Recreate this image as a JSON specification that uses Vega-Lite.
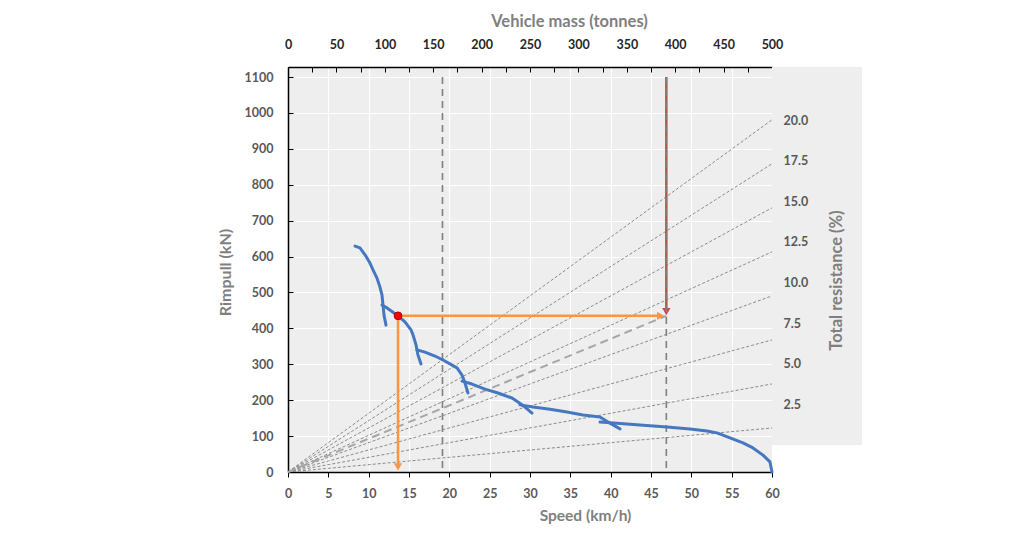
{
  "$schema": "https://vega.github.io/schema/vega-lite/v6.json",
  "width": 484,
  "height": 405,
  "autosize": "none",
  "padding": {"left": 288, "top": 67, "right": 241, "bottom": 64},
  "background": "white",
  "config": {"view": {"fill": "#EEEEEE", "stroke": null}, "font": "Lato"},
  "datasets": {
    "gears": [
      {"gear": 1, "speed": 8.31, "rimpull": 629}, {"gear": 1, "speed": 8.92, "rimpull": 624}, {"gear": 1, "speed": 9.55, "rimpull": 605}, {"gear": 1, "speed": 10.16, "rimpull": 582}, {"gear": 1, "speed": 10.54, "rimpull": 563}, {"gear": 1, "speed": 11.03, "rimpull": 540}, {"gear": 1, "speed": 11.4, "rimpull": 515}, {"gear": 1, "speed": 11.65, "rimpull": 493}, {"gear": 1, "speed": 11.78, "rimpull": 465}, {"gear": 1, "speed": 11.9, "rimpull": 437}, {"gear": 1, "speed": 12.15, "rimpull": 409},
      {"gear": 2, "speed": 11.65, "rimpull": 465}, {"gear": 2, "speed": 12.27, "rimpull": 457}, {"gear": 2, "speed": 13.02, "rimpull": 445}, {"gear": 2, "speed": 13.64, "rimpull": 435}, {"gear": 2, "speed": 14.5, "rimpull": 418}, {"gear": 2, "speed": 15.25, "rimpull": 396}, {"gear": 2, "speed": 15.5, "rimpull": 382}, {"gear": 2, "speed": 15.87, "rimpull": 354}, {"gear": 2, "speed": 16.11, "rimpull": 326}, {"gear": 2, "speed": 16.49, "rimpull": 301},
      {"gear": 3, "speed": 15.99, "rimpull": 340}, {"gear": 3, "speed": 16.98, "rimpull": 334}, {"gear": 3, "speed": 18.22, "rimpull": 323}, {"gear": 3, "speed": 19.21, "rimpull": 312}, {"gear": 3, "speed": 20.08, "rimpull": 301}, {"gear": 3, "speed": 20.95, "rimpull": 290}, {"gear": 3, "speed": 21.57, "rimpull": 270}, {"gear": 3, "speed": 21.94, "rimpull": 248}, {"gear": 3, "speed": 22.31, "rimpull": 220},
      {"gear": 4, "speed": 21.57, "rimpull": 253}, {"gear": 4, "speed": 22.81, "rimpull": 245}, {"gear": 4, "speed": 24.42, "rimpull": 231}, {"gear": 4, "speed": 26.03, "rimpull": 220}, {"gear": 4, "speed": 27.77, "rimpull": 206}, {"gear": 4, "speed": 28.51, "rimpull": 195}, {"gear": 4, "speed": 29.38, "rimpull": 181}, {"gear": 4, "speed": 30.25, "rimpull": 164},
      {"gear": 5, "speed": 28.76, "rimpull": 187}, {"gear": 5, "speed": 30.37, "rimpull": 181}, {"gear": 5, "speed": 32.48, "rimpull": 175}, {"gear": 5, "speed": 34.59, "rimpull": 167}, {"gear": 5, "speed": 36.57, "rimpull": 159}, {"gear": 5, "speed": 38.68, "rimpull": 153}, {"gear": 5, "speed": 39.92, "rimpull": 136}, {"gear": 5, "speed": 41.16, "rimpull": 120},
      {"gear": 6, "speed": 38.68, "rimpull": 139}, {"gear": 6, "speed": 40.78, "rimpull": 136}, {"gear": 6, "speed": 43.63, "rimpull": 131}, {"gear": 6, "speed": 46.98, "rimpull": 125}, {"gear": 6, "speed": 49.83, "rimpull": 120}, {"gear": 6, "speed": 51.94, "rimpull": 114}, {"gear": 6, "speed": 53.18, "rimpull": 109}, {"gear": 6, "speed": 54.79, "rimpull": 95}, {"gear": 6, "speed": 56.4, "rimpull": 81}, {"gear": 6, "speed": 57.64, "rimpull": 67}, {"gear": 6, "speed": 58.88, "rimpull": 47}, {"gear": 6, "speed": 59.75, "rimpull": 28}, {"gear": 6, "speed": 60, "rimpull": 0}
    ],
    "fan": [
      {"r": 2.5, "speed": 0, "rimpull": 0}, {"r": 2.5, "speed": 60, "rimpull": 122.6},
      {"r": 5, "speed": 0, "rimpull": 0}, {"r": 5, "speed": 60, "rimpull": 245.3},
      {"r": 7.5, "speed": 0, "rimpull": 0}, {"r": 7.5, "speed": 60, "rimpull": 367.9},
      {"r": 10, "speed": 0, "rimpull": 0}, {"r": 10, "speed": 60, "rimpull": 490.5},
      {"r": 12.5, "speed": 0, "rimpull": 0}, {"r": 12.5, "speed": 60, "rimpull": 613.1},
      {"r": 15, "speed": 0, "rimpull": 0}, {"r": 15, "speed": 60, "rimpull": 735.8},
      {"r": 17.5, "speed": 0, "rimpull": 0}, {"r": 17.5, "speed": 60, "rimpull": 858.4},
      {"r": 20, "speed": 0, "rimpull": 0}, {"r": 20, "speed": 60, "rimpull": 981}
    ]
  },
  "layer": [
    {
      "data": {"values": [{}]},
      "mark": {"type": "rect", "fill": "#EEEEEE", "clip": false},
      "encoding": {
        "x": {"datum": 60, "type": "quantitative", "scale": {"domain": [0, 60], "nice": false, "zero": false}, "axis": null},
        "x2": {"datum": 71.16},
        "y": {"datum": 75, "type": "quantitative", "scale": {"domain": [0, 1128], "nice": false, "zero": false}, "axis": null},
        "y2": {"datum": 1128}
      }
    },
    {
      "encoding": {
        "x": {"field": "speed", "type": "quantitative", "scale": {"domain": [0, 60], "nice": false, "zero": false},
          "axis": {"orient": "bottom", "values": [0, 5, 10, 15, 20, 25, 30, 35, 40, 45, 50, 55, 60], "grid": true, "gridColor": "white", "gridWidth": 1.2, "domainColor": "black", "domainWidth": 1.5, "tickColor": "black", "tickSize": 5, "labelPadding": 10, "labelFontSize": 12.5, "labelFontWeight": "bold", "labelColor": "#595959", "labelFlush": false, "labelOverlap": false, "title": "Speed (km/h)", "titleFontSize": 15.5, "titleFontWeight": "bold", "titleColor": "#7F7F7F", "titlePadding": 9, "titleX": 297}},
        "y": {"field": "rimpull", "type": "quantitative", "scale": {"domain": [0, 1128], "nice": false, "zero": false},
          "axis": {"orient": "left", "values": [0, 100, 200, 300, 400, 500, 600, 700, 800, 900, 1000, 1100], "format": "d", "grid": true, "gridColor": "white", "gridWidth": 1.2, "domainColor": "black", "domainWidth": 1.5, "tickColor": "black", "tickSize": -5, "labelPadding": 20, "labelFontSize": 12.5, "labelFontWeight": "bold", "labelColor": "#595959", "labelOverlap": false, "title": "Rimpull (kN)", "titleFontSize": 16, "titleFontWeight": "bold", "titleColor": "#7F7F7F", "titlePadding": 11, "titleY": 205}}
      },
      "layer": [
        {
          "data": {"name": "fan"},
          "mark": {"type": "line", "color": "#7F7F7F", "strokeWidth": 0.9, "strokeDash": [3, 2]},
          "encoding": {"detail": {"field": "r", "type": "nominal"}}
        },
        {
          "data": {"values": [{"speed": 0, "rimpull": 0}, {"speed": 46.9, "rimpull": 435}]},
          "mark": {"type": "line", "color": "#A6A6A6", "strokeWidth": 2, "strokeDash": [8, 5]}
        },
        {
          "data": {"values": [{"speed": 46.9, "rimpull": 1100, "rimpull2": 450}]},
          "mark": {"type": "rule", "color": "#C0504D", "strokeWidth": 2.5},
          "encoding": {"y2": {"field": "rimpull2"}}
        },
        {
          "data": {"values": [{"speed": 46.9, "rimpull": 447}]},
          "mark": {"type": "point", "shape": "triangle-down", "filled": true, "color": "#C0504D", "opacity": 1, "size": 70}
        },
        {
          "data": {"values": [{"speed": 19.15, "rimpull": 1100, "rimpull2": 0}, {"speed": 46.9, "rimpull": 1100, "rimpull2": 0}]},
          "mark": {"type": "rule", "color": "#7F7F7F", "strokeWidth": 1.6, "strokeDash": [7, 5]},
          "encoding": {"y2": {"field": "rimpull2"}}
        },
        {
          "data": {"name": "gears"},
          "mark": {"type": "line", "color": "#4677C1", "strokeWidth": 3, "strokeCap": "round", "strokeJoin": "round"},
          "encoding": {"detail": {"field": "gear", "type": "nominal"}}
        },
        {
          "data": {"values": [{"speed": 13.64, "speed2": 45.9, "rimpull": 435, "rimpull2": 435}, {"speed": 13.64, "speed2": 13.64, "rimpull": 435, "rimpull2": 12}]},
          "mark": {"type": "rule", "color": "#F79646", "strokeWidth": 2.5},
          "encoding": {"x2": {"field": "speed2"}, "y2": {"field": "rimpull2"}}
        },
        {
          "data": {"values": [{"speed": 46.2, "rimpull": 435, "dir": "right"}, {"speed": 13.64, "rimpull": 14, "dir": "down"}]},
          "mark": {"type": "point", "filled": true, "color": "#F79646", "opacity": 1, "size": 70},
          "encoding": {
            "shape": {"field": "dir", "type": "nominal", "scale": {"domain": ["right", "down"], "range": ["triangle-right", "triangle-down"]}, "legend": null}
          }
        },
        {
          "data": {"values": [{"speed": 13.64, "rimpull": 435}]},
          "mark": {"type": "point", "filled": true, "fill": "#FF0000", "stroke": "#B00000", "strokeWidth": 1, "opacity": 1, "size": 60}
        }
      ]
    },
    {
      "data": {"values": [{"mass": 0}, {"mass": 500}]},
      "mark": {"type": "point", "opacity": 0},
      "encoding": {
        "x": {"field": "mass", "type": "quantitative", "scale": {"domain": [0, 500], "nice": false, "zero": false},
          "axis": {"orient": "top", "values": [0, 25, 50, 75, 100, 125, 150, 175, 200, 225, 250, 275, 300, 325, 350, 375, 400, 425, 450, 475, 500], "labelExpr": "datum.value % 50 === 0 ? datum.label : ''", "grid": false, "tickSize": -5, "tickColor": "black", "domainColor": "black", "domainWidth": 1.5, "labelPadding": 21, "labelFontSize": 12.5, "labelFontWeight": "bold", "labelColor": "#262626", "labelFlush": false, "labelOverlap": false, "title": "Vehicle mass (tonnes)", "titleFontSize": 16.5, "titleFontWeight": "bold", "titleColor": "#7F7F7F", "titlePadding": 9, "titleX": 281}}
      }
    },
    {
      "data": {"values": [{"v": 2.5}]},
      "mark": {"type": "point", "opacity": 0},
      "encoding": {
        "y": {"field": "v", "type": "quantitative", "scale": {"domain": [-1.67, 23.27], "nice": false, "zero": false},
          "axis": {"orient": "right", "values": [2.5, 5, 7.5, 10, 12.5, 15, 17.5, 20], "format": ".1f", "ticks": false, "domain": false, "grid": false, "labelPadding": 11, "labelFontSize": 12.5, "labelFontWeight": "bold", "labelColor": "#595959", "labelOverlap": false, "title": "Total resistance (%)", "titleAngle": 270, "titleFontSize": 16.5, "titleFontWeight": "bold", "titleColor": "#7F7F7F", "titlePadding": 37, "titleY": 213, "zindex": 1}}
      }
    }
  ],
  "resolve": {"scale": {"x": "independent", "y": "independent"}}
}
